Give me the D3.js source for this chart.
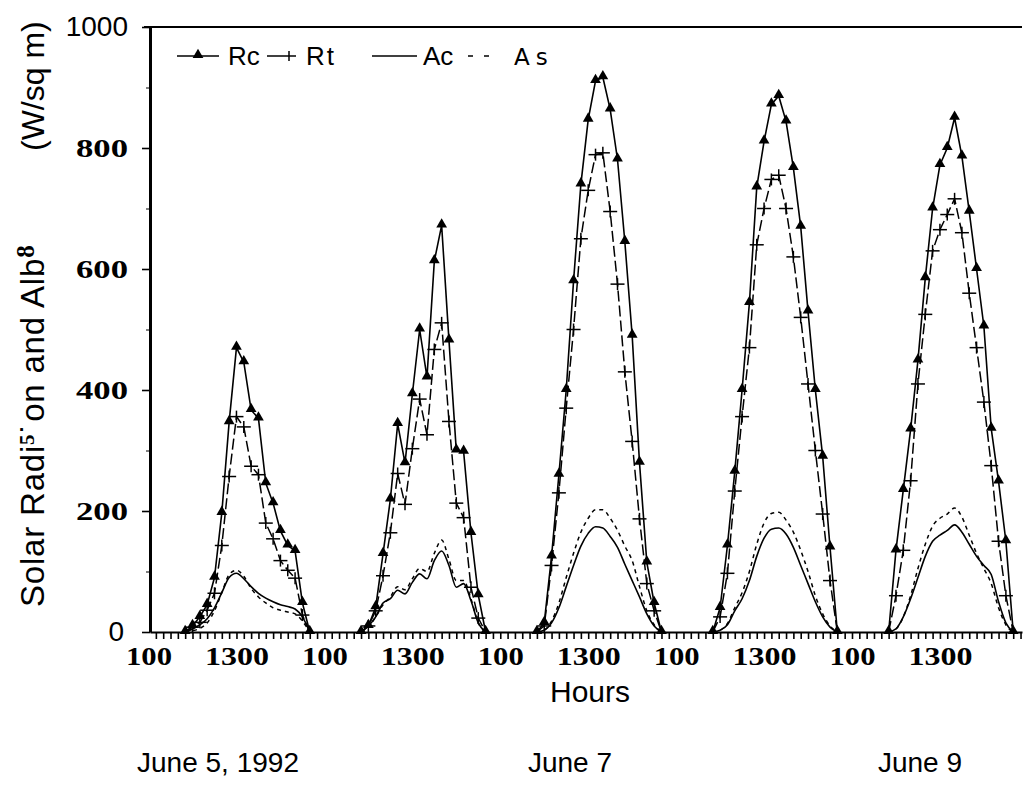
<!DOCTYPE html>
<html>
<head>
<meta charset="utf-8">
<script src="https://cdn.jsdelivr.net/npm/d3@7"></script>
<style>
  body { margin: 0; background: #fff; }
  svg { display: block; }
</style>
</head>
<body>
<div id="chart"></div>
<script>
// hours of day sampled on each day
var hours = [6,7,8,9,10,11,12,13,14,15,16,17,18,19,20,21,22,23];
var days = ["June 5", "June 6", "June 7", "June 8", "June 9"];

// Rc (W/sq m), one row per day
var rcVals = [
  [0,10,25,45,90,197,347,470,446,367,353,246,213,167,143,134,48,0],
  [0,10,41,129,219,344,279,393,500,421,613,672,482,300,298,164,61,0],
  [0,15,125,260,400,580,740,847,911,917,864,781,645,490,280,115,48,0],
  [0,40,143,265,400,544,735,811,872,886,844,767,670,530,400,290,140,0],
  [0,135,235,335,449,585,700,772,800,850,786,695,600,505,336,249,150,0]
];
// Rt
var rtVals = [
  [0,8,16,36,64,143,257,356,339,274,260,180,154,118,102,89,28,0],
  [0,10,35,93,164,262,211,303,385,326,467,511,348,213,189,74,23,0],
  [0,10,110,230,370,500,650,730,789,792,695,575,430,315,187,80,35,0],
  [0,25,97,233,356,470,640,700,748,755,700,620,520,410,300,195,85,0],
  [0,60,135,250,410,525,630,665,690,716,660,560,470,380,275,150,60,0]
];
// Ac
var acVals = [
  [0,5,12,22,40,65,90,97,88,75,64,56,50,45,42,38,25,0],
  [0,10,25,48,55,69,63,82,96,88,118,134,110,74,80,52,15,0],
  [0,3,15,40,75,110,142,163,174,172,158,140,112,85,58,30,10,0],
  [0,3,12,35,55,85,125,155,170,172,162,140,110,80,50,25,8,0],
  [0,5,25,55,90,125,150,160,168,177,165,145,125,110,95,50,15,0]
];
// As
var asVals = [
  [0,2,6,15,35,65,95,102,92,72,58,48,40,36,33,30,18,0],
  [0,8,25,45,58,75,70,88,105,100,130,152,120,85,85,55,15,0],
  [0,3,18,48,90,130,165,188,202,202,188,168,142,118,75,35,12,0],
  [0,3,14,40,65,100,145,180,196,198,185,165,135,100,60,30,10,0],
  [0,5,25,60,105,145,175,188,195,205,190,160,130,105,80,40,12,0]
];

// x tick labels (hour counted from 0000 on June 5)
var xLabelHours = [1,13,25,37,49,61,73,85,97,109];
var xLabels = ["100","1300","100","1300","100","1300","100","1300","100","1300"];
var yMajor = [0,200,400,600,800,1000];
var yMinor = [100,300,500,700,900];

var width = 1025, height = 796;
var serif = "'Liberation Serif', 'Times New Roman', serif";
var sans = "'Liberation Sans', Arial, sans-serif";

var svg = d3.select("#chart").append("svg")
    .attr("width", width)
    .attr("height", height);

var x = d3.scaleLinear().domain([1.2, 120.2]).range([150, 1022]);
var y = d3.scaleLinear().domain([0, 1000]).range([632, 27]);

function series(vals) {
    return vals.map(function(row, d) {
        return row.map(function(v, i) { return {t: d * 24 + hours[i], v: v}; });
    });
}

// top frame line
svg.append("line")
    .attr("x1", x(1.2)).attr("x2", x(120.2))
    .attr("y1", y(1000)).attr("y2", y(1000))
    .attr("stroke", "#000").attr("stroke-width", 2);

// x axis: hourly ticks
var xAxis = svg.append("g")
    .attr("transform", "translate(0," + y(0) + ")")
    .call(d3.axisBottom(x).tickValues(d3.range(2, 121)).tickSize(7).tickSizeOuter(0).tickFormat(""));
xAxis.select(".domain").attr("stroke-width", 2.2);
xAxis.selectAll(".tick line").attr("stroke-width", 1.6);

var xLab = svg.append("g")
    .attr("transform", "translate(0," + y(0) + ")")
    .call(d3.axisBottom(x).tickValues(xLabelHours).tickSize(0)
        .tickFormat(function(d, i) { return xLabels[i]; }));
xLab.select(".domain").remove();
xLab.selectAll("text")
    .attr("y", 33).attr("dy", 0)
    .attr("fill", "#000")
    .style("font-family", serif).style("font-weight", "bold").style("font-size", "26px")
    .attr("textLength", function(d, i) { return xLabels[i].length === 3 ? 46 : 64; })
    .attr("lengthAdjust", "spacingAndGlyphs");

// y axis
var yMin = svg.append("g")
    .attr("transform", "translate(" + x(1.2) + ",0)")
    .call(d3.axisLeft(y).tickValues(yMinor).tickSize(4).tickSizeOuter(0).tickFormat(""));
yMin.select(".domain").remove();

var yAx = svg.append("g")
    .attr("transform", "translate(" + x(1.2) + ",0)")
    .call(d3.axisLeft(y).tickValues(yMajor).tickSize(8).tickSizeOuter(0).tickPadding(14)
        .tickFormat(d3.format("d")));
yAx.select(".domain").attr("stroke-width", 3);
yAx.selectAll(".tick line").attr("stroke-width", 1.6);
yAx.selectAll("text")
    .attr("fill", "#000")
    .each(function(d) {
        var t = d3.select(this);
        if (d === 0 || d === 1000) {
            t.style("font-family", sans).style("font-size", "28px");
            if (d === 0) t.attr("x", -26);
        } else {
            t.style("font-family", serif).style("font-weight", "bold").style("font-size", "26px")
             .attr("textLength", 52).attr("lengthAdjust", "spacingAndGlyphs");
        }
    });
// T-bar at 1000
svg.append("line")
    .attr("x1", x(1.2) - 6).attr("x2", x(1.2) + 12)
    .attr("y1", y(1000)).attr("y2", y(1000))
    .attr("stroke", "#000").attr("stroke-width", 2);

// lines
var lineLin = d3.line().x(function(d) { return x(d.t); }).y(function(d) { return y(d.v); });
var lineSmooth = d3.line().curve(d3.curveMonotoneX)
    .x(function(d) { return x(d.t); }).y(function(d) { return y(d.v); });

function drawLines(vals, gen, dash, w) {
    svg.append("g").selectAll("path")
        .data(series(vals))
        .enter().append("path")
        .attr("d", gen)
        .attr("fill", "none")
        .attr("stroke", "#000")
        .attr("stroke-width", w)
        .attr("stroke-dasharray", dash);
}
drawLines(asVals, lineSmooth, "4,4", 1.5);
drawLines(acVals, lineSmooth, null, 1.6);
drawLines(rtVals, lineLin, "11,4", 1.5);
drawLines(rcVals, lineLin, null, 1.6);

var tri = d3.symbol().type(d3.symbolTriangle).size(50);

// Rt crosses
var rtPts = [].concat.apply([], series(rtVals)).filter(function(d) { return d.v > 0; });
var cross = svg.append("g").selectAll("g")
    .data(rtPts)
    .enter().append("g")
    .attr("transform", function(d) { return "translate(" + x(d.t) + "," + y(d.v) + ")"; });
cross.append("line").attr("x1", -7).attr("x2", 7).attr("stroke", "#000").attr("stroke-width", 1.5);
cross.append("line").attr("y1", -6).attr("y2", 6).attr("stroke", "#000").attr("stroke-width", 1.5);

// Rc triangles
var rcPts = [].concat.apply([], series(rcVals));
svg.append("g").selectAll("path")
    .data(rcPts)
    .enter().append("path")
    .attr("d", tri)
    .attr("transform", function(d) { return "translate(" + x(d.t) + "," + (y(d.v) - 1) + ")"; })
    .attr("fill", "#000");

// legend
var lg = svg.append("g").attr("transform", "translate(0,56)");
lg.append("line").attr("x1", 177).attr("x2", 219).attr("stroke", "#000").attr("stroke-width", 1.6);
lg.append("path").attr("d", tri).attr("transform", "translate(198,-1)").attr("fill", "#000");
lg.append("text").attr("x", 228).attr("y", 9).text("Rc")
    .style("font-family", sans).style("font-size", "26px");
lg.append("line").attr("x1", 267).attr("x2", 296).attr("stroke", "#000").attr("stroke-width", 1.5);
lg.append("line").attr("x1", 289).attr("x2", 289).attr("y1", -5).attr("y2", 5).attr("stroke", "#000").attr("stroke-width", 1.5);
lg.append("text").attr("x", 306).attr("y", 9).text("Rt")
    .style("font-family", sans).style("font-size", "26px").style("letter-spacing", "2px");
lg.append("line").attr("x1", 372).attr("x2", 417).attr("stroke", "#000").attr("stroke-width", 1.6);
lg.append("text").attr("x", 423).attr("y", 9).text("Ac")
    .style("font-family", sans).style("font-size", "26px");
lg.append("line").attr("x1", 468).attr("x2", 494).attr("stroke", "#000").attr("stroke-width", 1.5)
    .attr("stroke-dasharray", "5,11");
lg.append("text").attr("x", 514).attr("y", 9).text("As")
    .style("font-family", "'DejaVu Sans', sans-serif").style("font-size", "23px").style("letter-spacing", "6px");

// y title
var yt = svg.append("text")
    .attr("transform", "translate(44,607) rotate(-90)")
    .style("font-family", sans).style("font-size", "33px").style("letter-spacing", "0.8px");
yt.append("tspan").text("Solar Radi");
yt.append("tspan").text("5").attr("dy", -10).style("font-family", serif).style("font-weight", "bold").style("font-size", "21px");
yt.append("tspan").text("˙on and Alb").attr("dy", 10);
yt.append("tspan").text("8").attr("dy", -10).style("font-family", serif).style("font-weight", "bold").style("font-size", "25px");
svg.append("text")
    .attr("transform", "translate(44,151) rotate(-90)")
    .style("font-family", sans).style("font-size", "32px")
    .text("(W/sq m)");

// x title and dates
svg.append("text").attr("x", 590).attr("y", 702).attr("text-anchor", "middle")
    .style("font-family", sans).style("font-size", "30px").text("Hours");
var dateLabels = ["June 5, 1992", "June 7", "June 9"];
var dateX = [218, 570, 920];
svg.append("g").selectAll("text")
    .data(dateLabels)
    .enter().append("text")
    .attr("x", function(d, i) { return dateX[i]; })
    .attr("y", 772)
    .attr("text-anchor", "middle")
    .style("font-family", sans).style("font-size", "28px")
    .text(function(d) { return d; });
</script>
</body>
</html>
